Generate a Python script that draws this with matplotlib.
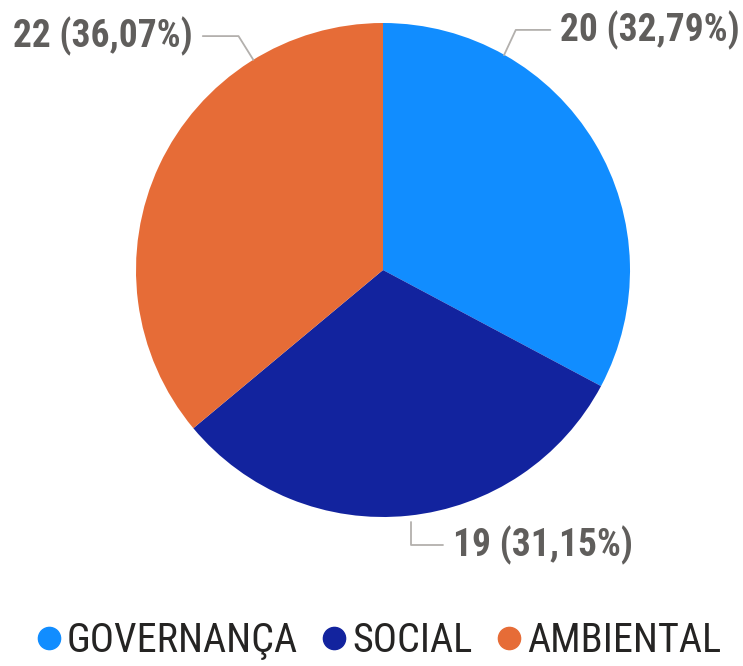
import matplotlib.pyplot as plt
from matplotlib.lines import Line2D

# dados do gráfico
categorias = ['GOVERNANÇA', 'SOCIAL', 'AMBIENTAL']
valores = [20, 19, 22]
cores = ['#118DFF', '#12239E', '#E66C37']

plt.rcParams['font.family'] = ['Roboto Condensed', 'Liberation Sans Narrow', 'Roboto', 'DejaVu Sans']

W, H = 743, 666
fig = plt.figure(figsize=(W / 100, H / 100), dpi=100)

# eixo do pizza (centro ~ (383,270) px, raio ~247 px)
cx, cy, r = 383, 270, 247
ax = fig.add_axes([(cx - r) / W, (H - cy - r) / H, 2 * r / W, 2 * r / H])
ax.pie(valores, colors=cores, startangle=90, counterclock=False, radius=1,
       wedgeprops=dict(linewidth=0))
ax.set_xlim(-1, 1)
ax.set_ylim(-1, 1)
ax.set_aspect('equal')
ax.axis('off')

total = sum(valores)
rotulos = [f'{v} ({v / total * 100:.2f}%)'.replace('.', ',') for v in valores]

# posição dos rótulos (texto, ponto na borda, ângulo do segmento)
pos = [
    dict(xytext=(0.717, 0.972), xy=(0.49, 0.87), ha='left', angB=65),
    dict(xytext=(0.283, -1.113), xy=(0.113, -1.02), ha='left', angB=90),
    dict(xytext=(-0.769, 0.947), xy=(-0.525, 0.851), ha='right', angB=122),
]
for txt, p in zip(rotulos, pos):
    ax.annotate(txt, xy=p['xy'], xytext=p['xytext'], ha=p['ha'], va='center',
                fontsize=27, fontweight='bold', color='#605E5C',
                annotation_clip=False,
                arrowprops=dict(arrowstyle='-', color='#B3B0AD', lw=1.3,
                                shrinkA=5, shrinkB=0,
                                connectionstyle=f"angle,angleA=0,angleB={p['angB']},rad=0"))

handles = [Line2D([], [], marker='o', linestyle='', markersize=16,
                  markerfacecolor=c, markeredgecolor=c) for c in cores]
fig.legend(handles, categorias, loc='center', bbox_to_anchor=(377 / W, 1 - 641 / H),
           ncol=3, frameon=False, fontsize=29, labelcolor='#252423',
           handletextpad=0.05, columnspacing=0.5, handlelength=0.8,
           borderpad=0, borderaxespad=0)

fig.savefig('out.png', dpi=100)
